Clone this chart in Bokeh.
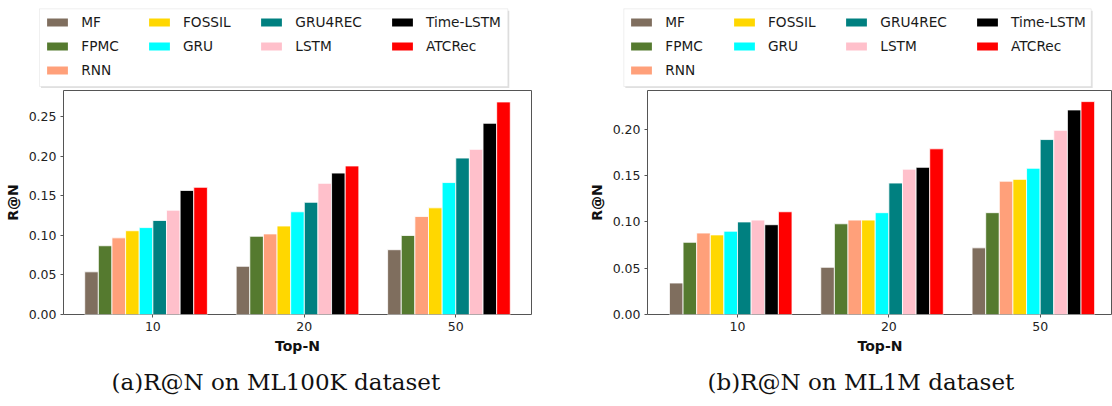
from bokeh.plotting import figure
from bokeh.models import (Legend, LegendItem, FixedTicker, NumeralTickFormatter,
                          Title, ColumnDataSource, BoxAnnotation)
from bokeh.layouts import row, column
from bokeh.embed import file_html
from bokeh.resources import INLINE
import numpy as np

methods = ["MF", "FPMC", "RNN", "FOSSIL", "GRU", "GRU4REC", "LSTM", "Time-LSTM", "ATCRec"]
colors = ["#7f6e5e", "#557a2f", "#ffa07a", "#ffd700", "#00ffff", "#008080",
          "#ffc0cb", "#000000", "#ff0000"]
topn_labels = ["10", "20", "50"]

# ML100K recall values per Top-N (order follows `methods`)
ml100k_top10 = [0.054, 0.087, 0.097, 0.106, 0.110, 0.119, 0.132, 0.157, 0.161]
ml100k_top20 = [0.061, 0.099, 0.102, 0.112, 0.130, 0.142, 0.166, 0.179, 0.188]
ml100k_top50 = [0.082, 0.100, 0.124, 0.135, 0.167, 0.198, 0.209, 0.242, 0.269]

# ML1M recall values per Top-N
ml1m_top10 = [0.034, 0.078, 0.088, 0.086, 0.090, 0.100, 0.102, 0.097, 0.111]
ml1m_top20 = [0.051, 0.098, 0.102, 0.102, 0.110, 0.142, 0.157, 0.159, 0.179]
ml1m_top50 = [0.072, 0.110, 0.144, 0.146, 0.158, 0.189, 0.199, 0.221, 0.230]

BAR_W = 0.09
FONT = "DejaVu Sans"
TOTAL_W = 1112
LEG_H = 88
W1, W2 = 584, 528

# legend layout (matplotlib style: 4 columns, filled column by column)
leg_columns = [[0, 1, 2], [3, 4], [5, 6], [7, 8]]


def make_legend_strip():
    lf = figure(width=TOTAL_W, height=LEG_H, output_backend="svg", toolbar_location=None,
                x_range=(0, TOTAL_W), y_range=(0, LEG_H), min_border=0,
                x_axis_location=None, y_axis_location=None)
    lf.outline_line_color = None
    lf.grid.visible = False
    rs = [lf.vbar(x=[np.nan], top=[np.nan], width=BAR_W, fill_color=c, line_color=None)
          for c in colors]
    boxes = [(39, 507.3), (623.3, 1090.7)]
    col_x = [[44.3, 146, 258.3, 389], [628.3, 731, 843.3, 974]]
    top_y = 75.7
    for (bl, br), xs in zip(boxes, col_x):
        lf.add_layout(BoxAnnotation(left=bl + 1.5, right=br + 1.5, bottom=0.5, top=77.7,
                                    fill_color="#000000", fill_alpha=0.12,
                                    line_color=None, level="underlay"))
        lf.add_layout(BoxAnnotation(left=bl, right=br, bottom=2, top=79.7,
                                    fill_color="white", fill_alpha=1,
                                    line_color="#cccccc", line_width=1,
                                    level="underlay"))
        for cx, members in zip(xs, leg_columns):
            n = len(members)
            h = n * 20 + (n - 1) * 4
            items = [LegendItem(label=methods[k], renderers=[rs[k]]) for k in members]
            leg = Legend(items=items, orientation="vertical",
                         location=(cx, top_y - h), glyph_width=26, glyph_height=10,
                         label_standoff=11, label_height=20, spacing=4,
                         padding=0, margin=0,
                         label_text_font=FONT, label_text_font_size="13.7px",
                         label_text_color="#1a1a1a",
                         border_line_color=None, background_fill_alpha=0)
            lf.add_layout(leg)
    return lf


def make_panel(rows_vals, y_end, y_ticks, x_start, x_end, width, right_border,
               caption, cap_offset):
    p = figure(width=width, height=2 + 224 + 92, output_backend="svg",
               toolbar_location=None,
               x_range=(x_start, x_end), y_range=(0, y_end),
               min_border_left=63, min_border_right=right_border,
               min_border_top=2, min_border_bottom=92)
    p.grid.visible = False
    p.outline_line_color = "#555555"
    p.outline_line_width = 1
    p.background_fill_color = "white"
    p.border_fill_color = "white"

    vals = np.array(rows_vals)  # shape (3 topn, 9 methods)
    ticks = np.arange(len(topn_labels))
    for i, m in enumerate(methods):
        xs = ticks + (i - 4) * BAR_W - BAR_W / 2
        src = ColumnDataSource(dict(x=xs, top=vals[:, i]))
        p.vbar(x="x", top="top", width=BAR_W, source=src, fill_color=colors[i],
               line_color="white", line_width=0.8)

    # axes
    p.xaxis.ticker = FixedTicker(ticks=list(ticks))
    p.xaxis.major_label_overrides = {int(t): lab for t, lab in zip(ticks, topn_labels)}
    p.yaxis.ticker = FixedTicker(ticks=y_ticks)
    p.yaxis.formatter = NumeralTickFormatter(format="0.00")
    for ax in (p.xaxis[0], p.yaxis[0]):
        ax.axis_line_color = None
        ax.major_tick_line_color = "#555555"
        ax.major_tick_out = 3
        ax.major_tick_in = 0
        ax.minor_tick_line_color = None
        ax.major_label_text_font = FONT
        ax.major_label_text_font_size = "12.5px"
        ax.major_label_text_color = "#222222"
        ax.major_label_standoff = 4
        ax.axis_label_text_font = FONT
        ax.axis_label_text_font_size = "14px"
        ax.axis_label_text_font_style = "bold"
        ax.axis_label_text_color = "#111111"
    p.xaxis.axis_label = "Top-N"
    p.xaxis.axis_label_standoff = 4
    p.yaxis.axis_label = "R@N"
    p.yaxis.axis_label_standoff = 5

    t = Title(text=caption, align="left", offset=cap_offset,
              text_font="DejaVu Serif", text_font_size="23px",
              text_font_style="normal", text_color="#111111", standoff=21)
    p.add_layout(t, "below")
    return p


p1 = make_panel([ml100k_top10, ml100k_top20, ml100k_top50], 0.2835,
                [0.0, 0.05, 0.10, 0.15, 0.20, 0.25], -0.59, 2.50, W1, 53,
                "(a)R@N on ML100K dataset", 48)
p2 = make_panel([ml1m_top10, ml1m_top20, ml1m_top50], 0.242,
                [0.0, 0.05, 0.10, 0.15, 0.20], -0.595, 2.478, W2, 0,
                "(b)R@N on ML1M dataset", 60)

legend_strip = make_legend_strip()

layout = column(legend_strip, row(p1, p2))
open("out.html", "w").write(file_html(layout, INLINE))
